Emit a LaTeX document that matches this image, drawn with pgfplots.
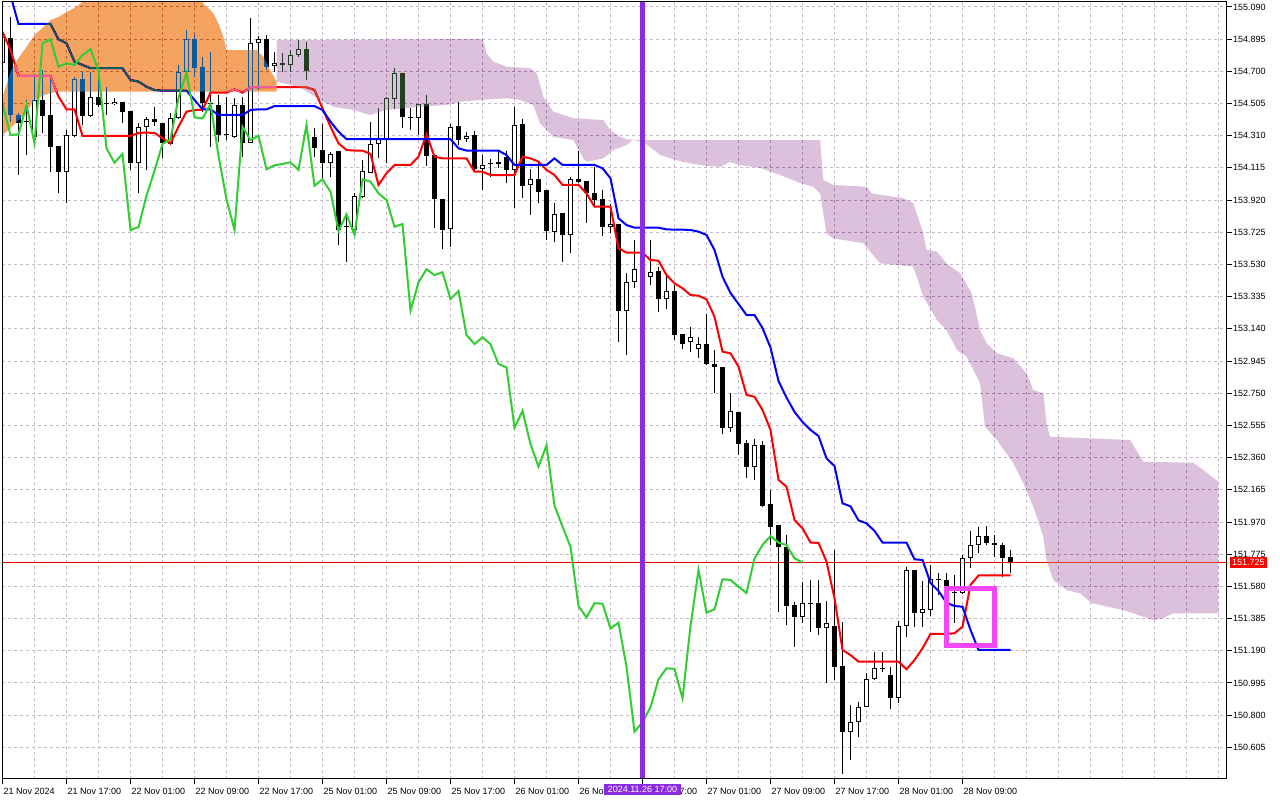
\documentclass[border=0pt]{standalone}
\usepackage{fontspec}
\setmainfont{Liberation Sans}
\usepackage{pgfplots}
\usepackage{pgfplotstable}
\pgfplotsset{compat=1.18}
\definecolor{tenkan}{RGB}{255,0,0}
\definecolor{kijun}{RGB}{0,0,255}
\definecolor{chikou}{RGB}{50,205,50}
\definecolor{kumoA}{RGB}{11,91,159}
\definecolor{kumoB}{RGB}{36,62,36}
\definecolor{gridc}{RGB}{196,184,202}
\definecolor{vline}{RGB}{138,43,226}
\definecolor{rectc}{RGB}{245,70,245}
\newcommand\lbl{\fontsize{9}{10}\selectfont}

\pgfplotstableread{
i o h l c
0 154.753 154.920 154.739 154.906
1 154.900 155.031 154.395 154.436
2 154.436 154.448 154.072 154.389
3 154.395 154.527 154.193 154.393
4 154.304 154.678 154.264 154.527
5 154.527 154.708 154.325 154.430
6 154.436 154.652 154.092 154.244
7 154.248 154.248 153.961 154.092
8 154.092 154.345 153.901 154.315
9 154.309 154.668 154.304 154.652
10 154.652 154.698 154.375 154.430
11 154.430 154.698 154.425 154.543
12 154.543 154.698 154.486 154.496
13 154.500 154.607 154.436 154.500
14 154.500 154.537 154.496 154.516
15 154.513 154.513 154.385 154.456
16 154.460 154.460 154.103 154.147
17 154.147 154.385 153.961 154.365
18 154.365 154.425 154.103 154.412
19 154.412 154.486 154.369 154.392
20 154.385 154.385 154.173 154.264
21 154.260 154.446 154.254 154.416
22 154.416 154.739 154.413 154.698
23 154.698 154.951 154.678 154.894
24 154.894 154.920 154.668 154.722
25 154.728 154.789 154.456 154.507
26 154.507 154.819 154.244 154.503
27 154.496 154.557 154.274 154.315
28 154.315 154.547 154.284 154.318
29 154.304 154.537 154.295 154.496
30 154.496 154.547 154.183 154.264
31 154.268 155.022 154.264 154.870
32 154.870 154.914 154.587 154.894
33 154.894 154.920 154.708 154.728
34 154.733 154.819 154.698 154.749
35 154.753 154.810 154.698 154.739
36 154.739 154.830 154.698 154.799
37 154.799 154.890 154.789 154.834
38 154.834 154.880 154.648 154.704
39 154.301 154.355 154.183 154.234
40 154.224 154.381 154.042 154.147
41 154.145 154.212 154.060 154.200
42 154.218 154.218 153.648 153.739
43 153.759 153.820 153.545 153.757
44 153.739 153.963 153.709 153.947
45 153.941 154.163 153.933 154.097
46 154.086 154.393 154.084 154.260
47 154.258 154.478 154.177 154.290
48 154.290 154.547 154.147 154.539
49 154.531 154.720 154.472 154.692
50 154.692 154.692 154.355 154.422
51 154.416 154.478 154.345 154.415
52 154.416 154.502 154.315 154.502
53 154.502 154.557 154.129 154.189
54 154.193 154.193 153.753 153.925
55 153.927 153.927 153.622 153.739
56 153.743 154.381 153.638 154.365
57 154.369 154.516 154.254 154.284
58 154.288 154.335 154.274 154.310
59 154.315 154.341 154.103 154.107
60 154.109 154.193 153.981 154.131
61 154.137 154.169 154.062 154.139
62 154.137 154.218 154.117 154.149
63 154.183 154.218 154.022 154.103
64 154.103 154.482 153.871 154.375
65 154.381 154.410 153.931 154.007
66 154.012 154.107 153.830 154.046
67 154.046 154.157 153.901 153.971
68 153.981 153.981 153.679 153.733
69 153.729 153.904 153.665 153.834
70 153.840 153.840 153.543 153.709
71 153.709 154.062 153.598 154.046
72 154.046 154.218 154.022 154.032
73 154.036 154.036 153.783 153.961
74 153.961 154.123 153.891 153.921
75 153.925 153.981 153.705 153.759
76 153.759 153.897 153.719 153.775
77 153.775 153.775 153.062 153.250
78 153.250 153.480 152.982 153.422
79 153.422 153.679 153.386 153.501
80 153.501 153.606 153.436 153.466
81 153.453 153.679 153.406 153.483
82 153.491 153.517 153.244 153.321
83 153.321 153.477 153.260 153.370
84 153.370 153.406 153.073 153.103
85 153.107 153.107 153.018 153.048
86 153.059 153.150 153.002 153.089
87 153.020 153.089 152.965 153.047
88 153.047 153.228 152.921 152.927
89 152.927 153.012 152.753 152.907
90 152.911 152.911 152.501 152.541
91 152.541 152.750 152.517 152.643
92 152.635 152.635 152.376 152.443
93 152.447 152.467 152.239 152.305
94 152.305 152.471 152.225 152.435
95 152.435 152.461 152.063 152.069
96 152.079 152.164 151.831 151.942
97 151.952 151.952 151.425 151.820
98 151.820 151.891 151.346 151.461
99 151.467 151.487 151.215 151.392
100 151.392 151.609 151.358 151.478
101 151.478 151.619 151.304 151.475
102 151.478 151.619 151.286 151.325
103 151.326 151.492 150.993 151.360
104 151.340 151.801 151.013 151.094
105 151.098 151.366 150.444 150.700
106 150.700 150.862 150.528 150.757
107 150.757 150.882 150.670 150.848
108 150.848 151.054 150.848 151.017
109 151.017 151.184 151.013 151.084
110 151.084 151.184 151.063 151.080
111 151.043 151.094 150.836 150.902
112 150.906 151.370 150.875 151.340
113 151.340 151.699 151.275 151.679
114 151.679 151.679 151.336 151.421
115 151.421 151.613 151.336 151.441
116 151.437 151.710 151.403 151.623
117 151.623 151.659 151.528 151.619
118 151.619 151.659 151.522 151.578
119 151.542 151.649 151.356 151.540
120 151.542 151.770 151.534 151.750
121 151.750 151.916 151.690 151.831
122 151.831 151.942 151.784 151.885
123 151.885 151.946 151.831 151.845
124 151.845 151.891 151.756 151.831
125 151.831 151.845 151.639 151.750
126 151.756 151.800 151.659 151.725
}\candles

\pgfplotstableread{
i v
0 154.940
1 154.830
2 154.672
3 154.672
4 154.672
5 154.672
6 154.672
7 154.547
8 154.470
9 154.470
10 154.309
11 154.309
12 154.309
13 154.309
14 154.309
15 154.309
16 154.309
17 154.327
18 154.329
19 154.327
20 154.295
21 154.264
22 154.365
23 154.456
24 154.466
25 154.466
26 154.571
27 154.571
28 154.571
29 154.591
30 154.571
31 154.604
32 154.604
33 154.604
34 154.604
35 154.604
36 154.604
37 154.604
38 154.604
39 154.587
40 154.476
41 154.365
42 154.264
43 154.224
44 154.220
45 154.220
46 154.200
47 154.012
48 154.083
49 154.133
50 154.133
51 154.133
52 154.183
53 154.319
54 154.183
55 154.173
56 154.173
57 154.173
58 154.173
59 154.092
60 154.092
61 154.072
62 154.072
63 154.072
64 154.072
65 154.183
66 154.173
67 154.153
68 154.103
69 154.072
70 154.012
71 154.012
72 154.012
73 153.961
74 153.880
75 153.880
76 153.880
77 153.628
78 153.602
79 153.602
80 153.602
81 153.557
82 153.553
83 153.466
84 153.416
85 153.386
86 153.345
87 153.341
88 153.319
89 153.214
90 153.002
91 152.992
92 152.911
93 152.740
94 152.729
95 152.649
96 152.528
97 152.225
98 152.184
99 151.982
100 151.932
101 151.846
102 151.843
103 151.730
104 151.508
105 151.195
106 151.164
107 151.124
108 151.124
109 151.124
110 151.124
111 151.124
112 151.124
113 151.078
114 151.134
115 151.205
116 151.292
117 151.292
118 151.292
119 151.296
120 151.336
121 151.589
122 151.646
123 151.646
124 151.646
125 151.646
126 151.646
}\tenkan

\pgfplotstableread{
i v
0 155.150
1 155.160
2 154.987
3 154.987
4 154.987
5 154.987
6 154.987
7 154.894
8 154.870
9 154.759
10 154.739
11 154.719
12 154.719
13 154.719
14 154.719
15 154.719
16 154.648
17 154.638
18 154.607
19 154.587
20 154.583
21 154.583
22 154.583
23 154.583
24 154.527
25 154.470
26 154.470
27 154.436
28 154.436
29 154.436
30 154.436
31 154.466
32 154.470
33 154.470
34 154.490
35 154.490
36 154.490
37 154.490
38 154.490
39 154.490
40 154.466
41 154.395
42 154.335
43 154.289
44 154.289
45 154.289
46 154.289
47 154.289
48 154.289
49 154.289
50 154.289
51 154.289
52 154.289
53 154.289
54 154.289
55 154.289
56 154.289
57 154.234
58 154.220
59 154.220
60 154.220
61 154.220
62 154.220
63 154.193
64 154.133
65 154.133
66 154.133
67 154.133
68 154.133
69 154.173
70 154.133
71 154.133
72 154.133
73 154.133
74 154.133
75 154.113
76 154.052
77 153.810
78 153.769
79 153.753
80 153.753
81 153.753
82 153.753
83 153.743
84 153.741
85 153.741
86 153.739
87 153.729
88 153.709
89 153.618
90 153.456
91 153.357
92 153.291
93 153.224
94 153.224
95 153.145
96 153.027
97 152.824
98 152.724
99 152.637
100 152.576
101 152.528
102 152.491
103 152.356
104 152.309
105 152.083
106 152.065
107 151.980
108 151.962
109 151.916
110 151.845
111 151.845
112 151.845
113 151.845
114 151.744
115 151.740
116 151.601
117 151.552
118 151.481
119 151.461
120 151.457
121 151.316
122 151.195
123 151.195
124 151.195
125 151.195
126 151.195
}\kijun

\pgfplotstableread{
i v
0 154.503
1 154.315
2 154.318
3 154.496
4 154.264
5 154.870
6 154.894
7 154.728
8 154.749
9 154.739
10 154.799
11 154.834
12 154.704
13 154.234
14 154.147
15 154.200
16 153.739
17 153.757
18 153.947
19 154.097
20 154.260
21 154.290
22 154.539
23 154.692
24 154.422
25 154.415
26 154.502
27 154.189
28 153.925
29 153.739
30 154.365
31 154.284
32 154.310
33 154.107
34 154.131
35 154.139
36 154.149
37 154.103
38 154.375
39 154.007
40 154.046
41 153.971
42 153.733
43 153.834
44 153.709
45 154.046
46 154.032
47 153.961
48 153.921
49 153.759
50 153.775
51 153.250
52 153.422
53 153.501
54 153.466
55 153.483
56 153.321
57 153.370
58 153.103
59 153.048
60 153.089
61 153.047
62 152.927
63 152.907
64 152.541
65 152.643
66 152.443
67 152.305
68 152.435
69 152.069
70 151.942
71 151.820
72 151.461
73 151.392
74 151.478
75 151.475
76 151.325
77 151.360
78 151.094
79 150.700
80 150.757
81 150.848
82 151.017
83 151.084
84 151.080
85 150.902
86 151.340
87 151.679
88 151.421
89 151.441
90 151.623
91 151.619
92 151.578
93 151.540
94 151.750
95 151.831
96 151.885
97 151.845
98 151.831
99 151.750
100 151.725
}\chikou

\begin{document}
\begin{tikzpicture}
\path[use as bounding box] (0,0) rectangle (1280pt,800pt);
\fill[white] (0,0) rectangle (1280pt,800pt);
\begin{axis}[
  at={(2.3pt,21pt)}, anchor=south west,
  scale only axis, width=1224.7pt, height=777pt,
  xmin=-0.025, xmax=153.06, ymin=150.4132, ymax=155.1203,
  axis line style={black, line width=1pt},
  tick align=outside, major tick length=5pt, minor tick length=0pt,
  tick style={black, line width=1pt},
  xtick pos=left, ytick pos=right, yticklabel pos=right,
  xtick={0,8,...,120},
  xticklabels={21 Nov 2024,21 Nov 17:00,22 Nov 01:00,22 Nov 09:00,22 Nov 17:00,25 Nov 01:00,25 Nov 09:00,25 Nov 17:00,26 Nov 01:00,26 Nov 09:00,26 Nov 17:00,27 Nov 01:00,27 Nov 09:00,27 Nov 17:00,28 Nov 01:00,28 Nov 09:00},
  minor xtick={4,12,...,124,128,132,...,152},
  ytick={155.090,154.895,154.700,154.505,154.310,154.115,153.920,153.725,153.530,153.335,153.140,152.945,152.750,152.555,152.360,152.165,151.970,151.775,151.580,151.385,151.190,150.995,150.800,150.605},
  yticklabels={155.090,154.895,154.700,154.505,154.310,154.115,153.920,153.725,153.530,153.335,153.140,152.945,152.750,152.555,152.360,152.165,151.970,151.775,151.580,151.385,151.190,150.995,150.800,150.605},
  xmajorgrids, xminorgrids, ymajorgrids,
  grid style={gridc, dash pattern=on 3pt off 3pt, line width=1pt},
  minor grid style={gridc, dash pattern=on 3pt off 3pt, line width=1pt},
  tick label style={font=\lbl, text=black},
  xticklabel style={anchor=north west, inner sep=0pt, xshift=1pt, yshift=-4pt},
  yticklabel style={anchor=west, inner sep=0pt, xshift=1pt},
]
% bid line
\addplot[red, line width=1pt, forget plot] coordinates {(-1,151.725) (155,151.725)};
% wicks
\addplot[only marks, no markers, mark size=0pt, black, forget plot,
  error bars/.cd, y dir=minus, y explicit, error mark=none,
  error bar style={black, solid, line width=1pt}]
  table[x=i, y=h, y error minus expr={\thisrow{h}-\thisrow{l}}] {\candles};
% bodies (black)
\addplot[only marks, no markers, mark size=0pt, black, forget plot,
  error bars/.cd, y dir=plus, y explicit, error mark=none,
  error bar style={black, solid, line width=5pt}]
  table[x=i, y expr={min(\thisrow{o},\thisrow{c})}, y error plus expr={max(abs(\thisrow{c}-\thisrow{o}),0.006)}] {\candles};
% bullish bodies (white inside)
\addplot[only marks, no markers, mark size=0pt, white, forget plot,
  error bars/.cd, y dir=plus, y explicit, error mark=none,
  error bar style={white, solid, line width=3pt}]
  table[x=i, y expr={\thisrow{o}+0.006}, y error plus expr={max(\thisrow{c}-\thisrow{o}-0.012,0)}] {\candles};
% tenkan, kijun
\addplot[tenkan, line width=2pt, mark=none] table[x=i, y=v] {\tenkan};
\addplot[kijun, line width=2pt, mark=none] table[x=i, y=v] {\kijun};
% kumo
\addplot[draw=none, fill=kumoA, blend mode=difference] coordinates {
(0,154.545) (1,154.696) (2,154.781) (3,154.848) (4,154.920) (5,154.963) (6,155.011) (7,155.029) (8,155.060) (9,155.084) (10,155.120) (11,155.170) (24.5,155.170) (25.1,155.112) (26.35,155.052) (26.98,154.991) (27.6,154.910) (28,154.829) (31.8,154.829) (32.6,154.789) (33.44,154.708) (34.28,154.637) (34.28,154.577) (7,154.577) (6,154.569) (5,154.551) (4,154.527) (3,154.454) (2,154.405) (1,154.357) (0,154.314)};
\addplot[draw=none, fill=kumoB, blend mode=difference] coordinates {
(34.28,154.890) (60.06,154.896) (60.5,154.810) (61.35,154.759) (63.03,154.728) (65.94,154.719) (66.78,154.688) (67.6,154.547) (68.85,154.456) (71.35,154.416) (75.1,154.405) (75.94,154.345) (77.19,154.304) (78.03,154.289) (78.8,154.286) (80.31,154.284) (102.2,154.284) (102.6,154.042) (103.85,154.012) (108.0,154.001) (108.65,153.961) (112.6,153.931) (113.85,153.901) (115.1,153.719) (115.5,153.618) (116.8,153.608) (118.0,153.537) (119.7,153.477) (121.15,153.356) (122.2,153.133) (123.0,153.053) (124.3,152.992) (126.35,152.962) (128.0,152.871) (128.85,152.770) (130.1,152.750) (130.5,152.568) (130.94,152.487) (140.94,152.467) (142.6,152.335) (148.85,152.329) (150.1,152.285) (151.98,152.214)
(151.98,151.417) (146.35,151.417) (145.1,151.387) (143.85,151.376) (140.1,151.437) (136.15,151.478) (134.7,151.538) (133.0,151.558) (131.35,151.619) (130.5,151.740) (130.1,151.881) (128.85,152.063) (127.6,152.205) (126.35,152.326) (124.3,152.467) (122.8,152.548) (122.2,152.810) (120.5,152.972) (119.3,153.012) (118.0,153.133) (116.8,153.194) (115.1,153.335) (113.85,153.517) (111.8,153.527) (109.7,153.537) (107.6,153.659) (103.85,153.689) (103.0,153.719) (102.2,153.961) (101.35,154.001) (99.7,154.024) (97.2,154.072) (94.7,154.115) (92.2,154.133) (90.9,154.151) (89.7,154.121) (87.2,154.133) (85.06,154.151) (82.2,154.193) (80.3,154.266) (78.8,154.286) (78.03,154.254) (76.35,154.224) (75.1,154.173) (73.03,154.153) (72.6,154.173) (71.35,154.284) (68.85,154.304) (67.2,154.385) (66.35,154.496) (64.7,154.527) (63.03,154.537) (59.7,154.527) (57.2,154.516) (55.5,154.496) (52.2,154.486) (50.1,154.476) (48.0,154.466) (45.9,154.436) (43.85,154.466) (41.35,154.486) (39.7,154.527) (37.2,154.604) (35.1,154.628) (34.28,154.636)};
% chikou
\addplot[chikou, line width=2pt, mark=none] table[x=i, y=v] {\chikou};
% annotations
\draw[vline, line width=4.5pt] (axis cs:80,150.30) -- (axis cs:80,155.2);
\draw[rectc, line width=5pt] (axis cs:118.0,151.566) rectangle (axis cs:123.94,151.221);
\coordinate (pl) at (axis cs:80,150.4132);
\coordinate (bid) at (axis cs:153.06,151.725);
\coordinate (sw) at (rel axis cs:0,0);
\coordinate (ne) at (rel axis cs:1,1);
\end{axis}
\draw[black, line width=1pt] (sw) rectangle (ne);
\node[fill=vline, text=white, font=\lbl, anchor=north, inner xsep=4pt, inner ysep=0pt, minimum height=11pt] at ([yshift=-5pt]pl) {2024.11.26 17:00};
\node[fill=red, text=white, font=\lbl, anchor=west, inner xsep=2.5pt, inner ysep=0pt, minimum height=11pt] at ([xshift=2.5pt]bid) {151.725};
\end{tikzpicture}
\end{document}
